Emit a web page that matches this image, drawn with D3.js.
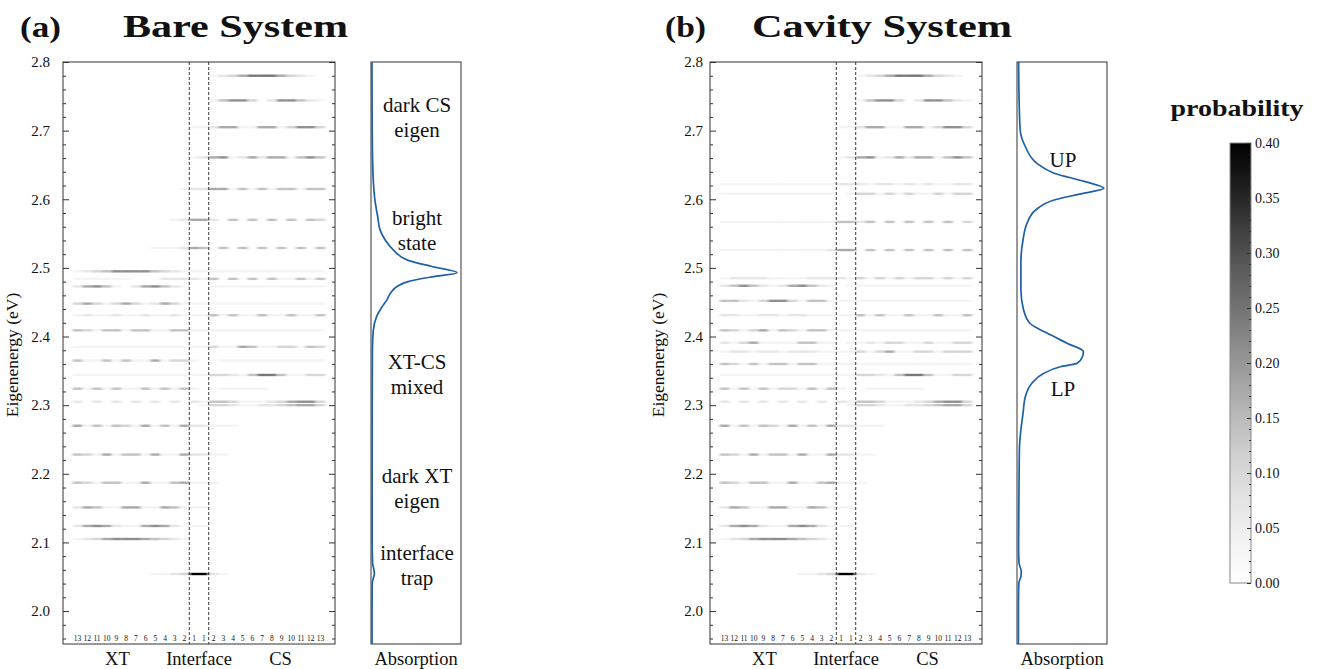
<!DOCTYPE html>
<html>
<head>
<meta charset="utf-8">
<script src="https://cdn.jsdelivr.net/npm/d3@7"></script>
<style>
  body { margin: 0; background: #fff; }
  text { font-family: "Liberation Serif", "DejaVu Serif", serif; fill: #111; }
</style>
</head>
<body>
<script>
// ---- data ----
let energyTicks = [2.0, 2.1, 2.2, 2.3, 2.4, 2.5, 2.6, 2.7, 2.8]
let siteLabels = ['13','12','11','10','9','8','7','6','5','4','3','2','1','1','2','3','4','5','6','7','8','9','10','11','12','13']
let regionLabels = ['XT', 'Interface', 'CS']
let probTicks = [0, 0.05, 0.1, 0.15, 0.2, 0.25, 0.3, 0.35, 0.4]

// eigenstates: energy (eV) + site probability, one hex digit per site
// order XT13..XT1 | CS1..CS13, one step = 0.035
let bareEnergies = [2.780, 2.744, 2.705, 2.661, 2.615, 2.570, 2.529, 2.495, 2.484, 2.473, 2.448, 2.431, 2.409,
  2.385, 2.365, 2.344, 2.324, 2.305, 2.300, 2.270, 2.228, 2.187, 2.151, 2.124, 2.105, 2.054]
let bareWeights = [
  '0000000000000 0123577753210', '0000000000000 0146630266421', '0000000000001 1255115513663',
  '0000000000001 2561252551464', '0000000000012 2551414144144', '0000000000125 5204040404043',
  '0000000011125 4040404040404', '1234666643211 1111111111111', '1111110002222 1404040411414',
  '2564102564210 0111111111111', '3531353125311 1111111111111', '1211211211211 1414114114114',
  '4314414411441 1111111111111', '1111111111111 1311541133143', '4114141151331 0011111111111',
  '1111111111111 1332147741133', '4141411414141 0011111000000', '2020202020202 1443111235663',
  '0000000000000 1332112234553', '5141431514152 2111000000000', '4315144151152 2110000000000',
  '4314411511451 1100000000000', '2541155115411 1000000000000', '2565211565211 1000000000000',
  '1235666543210 0000000000000', '000000001123c c210000000000'
]
let cavityEnergies = [2.780, 2.744, 2.705, 2.661, 2.622, 2.608, 2.567, 2.526, 2.485, 2.474, 2.452, 2.431, 2.409,
  2.391, 2.378, 2.360, 2.344, 2.324, 2.305, 2.300, 2.270, 2.228, 2.187, 2.151, 2.124, 2.105, 2.054]
let cavityWeights = [
  '0000000000000 0123577753210', '0000000000000 0146630266421', '0000000000001 1255115513663',
  '0000000000001 2561252551464', '1111111111112 2212212121122', '1111111111110 1331313113133',
  '1111111111114 4240404040403', '1111111111125 5040404040404', '1222211112222 1313131331313',
  '2464212564210 1111111111111', '4421366314411 1111111111111', '2211221221111 1414114114114',
  '4313514314411 1111111111111', '2135111144110 1121331131133', '1221221222111 1313511331333',
  '4314144144111 1111111111111', '1111111111111 1332147741133', '4141413314141 0011111100000',
  '2020202020202 1443111235663', '0000000000000 1332112234553', '5141431514152 2111000000000',
  '4315144151152 2110000000000', '4314411511451 1100000000000', '2541155115411 1000000000000',
  '2565211565211 1000000000000', '1235666543210 0000000000000', '000000001123c c210000000000'
]

// absorption spectra (arb. units, peak ~1)
let bareAbsEnergy = [2.80, 2.75, 2.70, 2.672, 2.623, 2.599, 2.575, 2.555, 2.541, 2.526, 2.511, 2.502, 2.493,
  2.487, 2.48, 2.473, 2.463, 2.453, 2.443, 2.429, 2.409, 2.38, 2.30, 2.20, 2.10, 2.07, 2.06, 2.054, 2.048,
  2.04, 2.00, 1.952]
let bareAbsorption = [0.003, 0.004, 0.006, 0.008, 0.02, 0.036, 0.067, 0.095, 0.15, 0.245, 0.41, 0.68, 0.96,
  0.68, 0.41, 0.285, 0.21, 0.17, 0.115, 0.055, 0.018, 0.008, 0.006, 0.005, 0.005, 0.01, 0.025, 0.03, 0.018,
  0.006, 0.004, 0.004]
let cavityAbsEnergy = [2.80, 2.75, 2.701, 2.677, 2.652, 2.638, 2.626, 2.616, 2.609, 2.599, 2.584, 2.565, 2.541,
  2.507, 2.468, 2.439, 2.419, 2.405, 2.39, 2.378, 2.371, 2.361, 2.356, 2.346, 2.332, 2.312, 2.288, 2.264,
  2.239, 2.19, 2.14, 2.09, 2.07, 2.058, 2.05, 2.04, 2.00, 1.952]
let cavityAbsorption = [0.01, 0.015, 0.028, 0.085, 0.22, 0.41, 0.75, 0.97, 0.75, 0.41, 0.2, 0.105, 0.06,
  0.036, 0.036, 0.066, 0.14, 0.33, 0.56, 0.74, 0.73, 0.67, 0.48, 0.29, 0.16, 0.085, 0.06, 0.036,
  0.02, 0.015, 0.012, 0.01, 0.015, 0.04, 0.035, 0.012, 0.008, 0.008]

// annotation text and the energy of its first baseline
let bareNotes = [['dark CS', 'eigen', 2.727], ['bright', 'state', 2.562], ['XT-CS', 'mixed', 2.353],
  ['dark XT', 'eigen', 2.186], ['interface', 'trap', 2.075]]
let cavityNotes = [['UP', null, 2.647], ['LP', null, 2.314]]

// ---- layout ----
let width = 1320
let height = 669
let plotTop = 62
let plotBottom = 644
let mapWidth = 272
let absWidth = 90
let step = 0.035

let svg = d3.select('body').append('svg').attr('width', width).attr('height', height)
let defs = svg.append('defs')
defs.append('filter').attr('id', 'soften')
  .append('feGaussianBlur').attr('stdDeviation', '1.4 0.25')

let yScale = d3.scaleLinear().domain([1.952, 2.8]).range([plotBottom, plotTop])
let colorScale = d3.scaleSequential(d3.interpolateGreys).domain([0, 0.4]).clamp(true)
let minorTicks = d3.range(1.96, 2.8, 0.02).filter(v => Math.abs(v * 10 - Math.round(v * 10)) > 0.01)

let panels = [
  { tag: '(a)', tagX: 20, title: 'Bare System', titleX: 123, titleLen: 225, mapX: 63, absX: 371, pad: 13,
    energies: bareEnergies, weights: bareWeights, absE: bareAbsEnergy, abs: bareAbsorption, notes: bareNotes, labelX: 18 },
  { tag: '(b)', tagX: 665, title: 'Cavity System', titleX: 752, titleLen: 260, mapX: 710, absX: 1017, pad: 7,
    energies: cavityEnergies, weights: cavityWeights, absE: cavityAbsEnergy, abs: cavityAbsorption, notes: cavityNotes, labelX: 664 }
]

panels.forEach((p, pi) => {
  let g = svg.append('g')

  // titles
  g.append('text').attr('x', p.tagX).attr('y', 37).attr('font-size', 30).attr('font-weight', 'bold')
    .attr('textLength', 41).attr('lengthAdjust', 'spacingAndGlyphs').text(p.tag)
  g.append('text').attr('x', p.titleX).attr('y', 37).attr('font-size', 31).attr('font-weight', 'bold')
    .attr('textLength', p.titleLen).attr('lengthAdjust', 'spacingAndGlyphs').text(p.title)

  // site scale
  let xScale = d3.scaleBand().domain(d3.range(siteLabels.length))
    .range([p.mapX, p.mapX + mapWidth]).paddingOuter(1).paddingInner(0)

  // heat map rows
  let clipId = 'clip' + pi
  defs.append('clipPath').attr('id', clipId).append('rect')
    .attr('x', p.mapX).attr('y', plotTop).attr('width', mapWidth).attr('height', plotBottom - plotTop)
  let cells = []
  p.energies.forEach((e, i) => {
    p.weights[i].replace(/ /g, '').split('').forEach((ch, c) => {
      let v = parseInt(ch, 16) * step
      if (v > 0) cells.push({ e, c, v })
    })
  })
  g.append('g').attr('clip-path', `url(#${clipId})`)
    .append('g').attr('filter', 'url(#soften)')
    .selectAll('rect').data(cells).enter().append('rect')
    .attr('x', d => xScale(d.c))
    .attr('y', d => yScale(d.e) - 1.2)
    .attr('width', xScale.bandwidth())
    .attr('height', 2.4)
    .attr('fill', d => colorScale(d.v))

  // interface dashed lines
  ;[12, 14].forEach(c => {
    g.append('line').attr('x1', xScale(c)).attr('x2', xScale(c))
      .attr('y1', plotTop).attr('y2', plotBottom)
      .attr('stroke', '#222').attr('stroke-width', 0.9).attr('stroke-dasharray', '3,2')
  })

  // frame
  g.append('rect').attr('x', p.mapX).attr('y', plotTop).attr('width', mapWidth)
    .attr('height', plotBottom - plotTop).attr('fill', 'none').attr('stroke', '#333').attr('stroke-width', 1)

  // y axes (ticks inside, both sides)
  let left = g.append('g').attr('transform', `translate(${p.mapX},0)`)
    .call(d3.axisLeft(yScale).tickValues(energyTicks).tickSize(-6).tickPadding(p.pad).tickFormat(d3.format('.1f')))
  left.select('.domain').remove()
  left.selectAll('text').attr('font-size', 15).attr('fill', '#111')
  left.selectAll('line').attr('stroke', '#333')
  let leftMinor = g.append('g').attr('transform', `translate(${p.mapX},0)`)
    .call(d3.axisLeft(yScale).tickValues(minorTicks).tickSize(-3).tickFormat(''))
  leftMinor.select('.domain').remove()
  leftMinor.selectAll('line').attr('stroke', '#333')
  let right = g.append('g').attr('transform', `translate(${p.mapX + mapWidth},0)`)
    .call(d3.axisRight(yScale).tickValues(energyTicks).tickSize(-6).tickFormat(''))
  right.select('.domain').remove()
  right.selectAll('line').attr('stroke', '#333')
  let rightMinor = g.append('g').attr('transform', `translate(${p.mapX + mapWidth},0)`)
    .call(d3.axisRight(yScale).tickValues(minorTicks).tickSize(-3).tickFormat(''))
  rightMinor.select('.domain').remove()
  rightMinor.selectAll('line').attr('stroke', '#333')

  // y label
  g.append('text').attr('transform', `translate(${p.labelX},${(plotTop + plotBottom) / 2 + 2}) rotate(-90)`)
    .attr('text-anchor', 'middle').attr('font-size', 17.5).text('Eigenenergy (eV)')

  // site numbers
  g.selectAll('.site').data(siteLabels).enter().append('text')
    .attr('x', (d, i) => xScale(i) + xScale.bandwidth() / 2)
    .attr('y', plotBottom - 3.5)
    .attr('text-anchor', 'middle').attr('font-size', 7.5).text(d => d)

  // region labels
  regionLabels.forEach((t, i) => {
    g.append('text').attr('x', p.mapX + mapWidth * [0.2, 0.5, 0.8][i]).attr('y', 665)
      .attr('text-anchor', 'middle').attr('font-size', 18.5).text(t)
  })

  // absorption panel
  let absScale = d3.scaleLinear().domain([0, 1]).range([p.absX + 0.7, p.absX + absWidth - 0.5])
  g.append('rect').attr('x', p.absX).attr('y', plotTop).attr('width', absWidth)
    .attr('height', plotBottom - plotTop).attr('fill', 'none').attr('stroke', '#333').attr('stroke-width', 1)
  let line = d3.line().x(d => absScale(d[1])).y(d => yScale(d[0])).curve(d3.curveMonotoneY)
  g.append('path').datum(d3.zip(p.absE, p.abs)).attr('d', line)
    .attr('fill', 'none').attr('stroke', '#1f5fa6').attr('stroke-width', 1.7)
  g.append('text').attr('x', p.absX + absWidth / 2).attr('y', 665)
    .attr('text-anchor', 'middle').attr('font-size', 18.5).text('Absorption')

  // notes
  p.notes.forEach(n => {
    let cx = pi === 0 ? p.absX + absWidth / 2 + 1 : p.absX + 46
    let t = g.append('text').attr('text-anchor', 'middle').attr('font-size', 21)
    t.append('tspan').attr('x', cx).attr('y', yScale(n[2])).text(n[0])
    if (n[1]) t.append('tspan').attr('x', cx).attr('dy', 25).text(n[1])
  })
})

// ---- colorbar ----
let cbX = 1230
let cbW = 21
let cbTop = 143
let cbBottom = 583
let cbScale = d3.scaleLinear().domain([0, 0.4]).range([cbBottom, cbTop])
let grad = defs.append('linearGradient').attr('id', 'cbgrad').attr('x1', 0).attr('y1', 1).attr('x2', 0).attr('y2', 0)
d3.range(0, 1.0001, 0.1).forEach(t => {
  grad.append('stop').attr('offset', t).attr('stop-color', colorScale(t * 0.4))
})
svg.append('rect').attr('x', cbX).attr('y', cbTop).attr('width', cbW).attr('height', cbBottom - cbTop)
  .attr('fill', 'url(#cbgrad)').attr('stroke', '#888').attr('stroke-width', 1)
let cbAxis = svg.append('g').attr('transform', `translate(${cbX + cbW},0)`)
  .call(d3.axisRight(cbScale).tickValues(probTicks).tickSize(-4).tickPadding(4).tickFormat(d3.format('.2f')))
cbAxis.select('.domain').remove()
cbAxis.selectAll('text').attr('font-size', 14).attr('fill', '#111')
cbAxis.selectAll('line').attr('stroke', '#333')
let cbMinor = svg.append('g').attr('transform', `translate(${cbX + cbW},0)`)
  .call(d3.axisRight(cbScale).tickValues(d3.range(0.01, 0.4, 0.01)).tickSize(-2).tickFormat(''))
cbMinor.select('.domain').remove()
cbMinor.selectAll('line').attr('stroke', '#333')
svg.append('text').attr('x', cbX + 7).attr('y', 116).attr('text-anchor', 'middle')
  .attr('font-size', 24).attr('font-weight', 'bold')
  .attr('textLength', 133).attr('lengthAdjust', 'spacingAndGlyphs').text('probability')
</script>
</body>
</html>
